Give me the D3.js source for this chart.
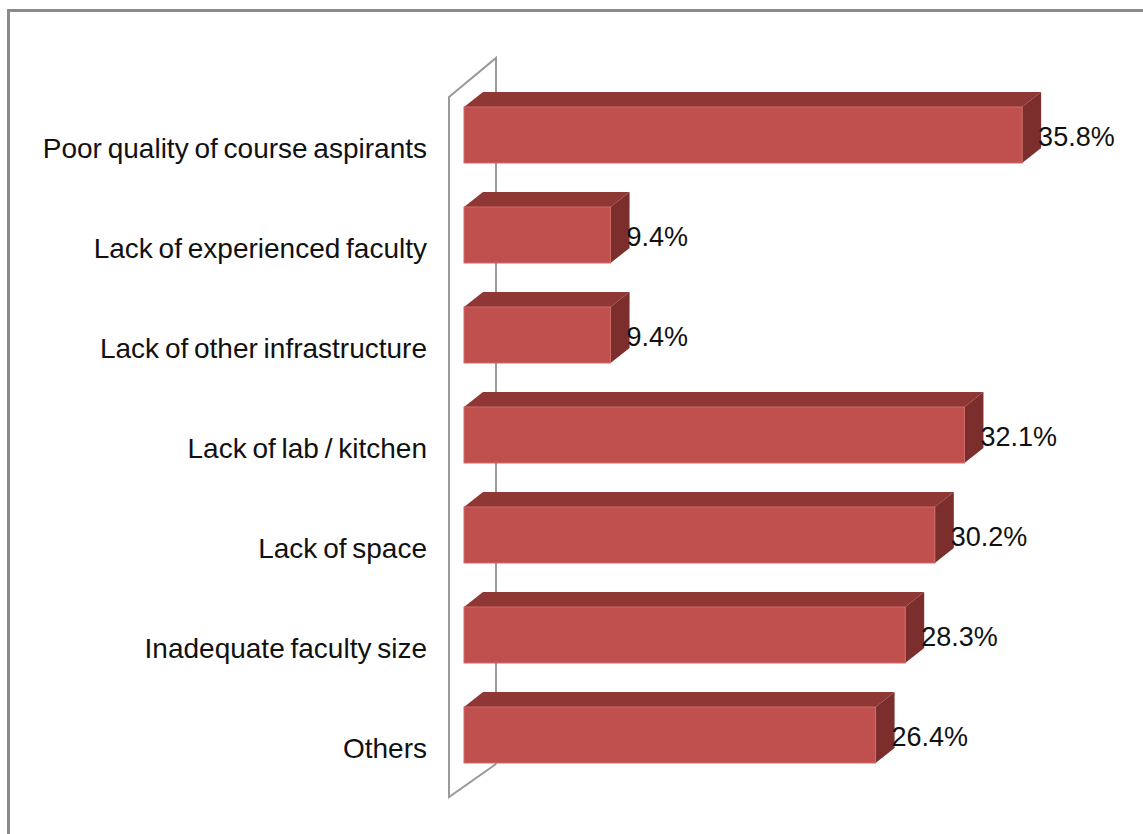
<!DOCTYPE html>
<html>
<head>
<meta charset="utf-8">
<script src="https://cdn.jsdelivr.net/npm/d3@7"></script>
<style>
  html, body { margin: 0; padding: 0; background: #ffffff; }
  svg { display: block; }
  text { font-family: "Liberation Sans", Arial, sans-serif; fill: #111; }
</style>
</head>
<body>
<svg id="chart" width="1143" height="834"></svg>
<script>
// Reasons reported, top to bottom
const categories = [
  "Poor quality of course aspirants",
  "Lack of experienced faculty",
  "Lack of other infrastructure",
  "Lack of lab / kitchen",
  "Lack of space",
  "Inadequate faculty size",
  "Others"
];
// Share of respondents (%)
const values = [35.8, 9.4, 9.4, 32.1, 30.2, 28.3, 26.4];

const W = 1143, H = 834;
const svg = d3.select("#chart");

// outer frame (runs off the right and bottom edges)
svg.append("rect")
  .attr("x", 8.5).attr("y", 10.5)
  .attr("width", W + 20).attr("height", H + 20)
  .attr("fill", "none").attr("stroke", "#8a8a8a").attr("stroke-width", 3);

// value axis: bar front faces start at x0
const x0 = 464;
const x = d3.scaleLinear().domain([0, 40]).range([x0, x0 + 40 * 15.59]);
const y = d3.scaleBand().domain(categories)
  .range([85, 785]).paddingInner(0.44).paddingOuter(0.22);

// oblique projection: bar depth and full wall depth
const bdx = 19, bdy = 15;
const wallFront = x0 - 15, wallBack = wallFront + 47;
const wallTopFront = y.range()[0] + 12, wallTopBack = wallTopFront - 39;
const wallBotFront = y.range()[1] + 12, wallBotBack = wallBotFront - 33;

// 3-D side wall outline
svg.append("path")
  .attr("d", d3.line()([
    [wallBack, wallBotBack],
    [wallFront, wallBotFront],
    [wallFront, wallTopFront],
    [wallBack, wallTopBack],
    [wallBack, wallBotBack]
  ]))
  .attr("fill", "none").attr("stroke", "#9a9a9a").attr("stroke-width", 2)
  .attr("stroke-linejoin", "miter");

const bars = svg.append("g").selectAll("g")
  .data(categories.map((c, i) => ({ c, v: values[i] })))
  .join("g");

const h = y.bandwidth();

// top face
bars.append("path")
  .attr("d", d => {
    const yt = y(d.c), x1 = x(d.v);
    return d3.line()([[x0, yt], [x0 + bdx, yt - bdy], [x1 + bdx, yt - bdy], [x1, yt]]) + "Z";
  })
  .attr("fill", "#8f3735");

// right side face
bars.append("path")
  .attr("d", d => {
    const yt = y(d.c), x1 = x(d.v);
    return d3.line()([[x1, yt], [x1 + bdx, yt - bdy], [x1 + bdx, yt + h - bdy], [x1, yt + h]]) + "Z";
  })
  .attr("fill", "#7b2e2c");

// front face
bars.append("rect")
  .attr("x", x0)
  .attr("y", d => y(d.c))
  .attr("width", d => x(d.v) - x0)
  .attr("height", h)
  .attr("fill", "#c0504d")
  .attr("stroke", "#d06a67").attr("stroke-width", 1);

// value labels
bars.append("text")
  .attr("x", d => x(d.v) + 16)
  .attr("y", d => y(d.c) + 39)
  .attr("font-size", 27)
  .text(d => d.v.toFixed(1) + "%");

// category labels
svg.append("g").selectAll("text")
  .data(categories)
  .join("text")
  .attr("x", 427)
  .attr("y", c => y(c) + 51)
  .attr("text-anchor", "end")
  .attr("font-size", 28)
  .attr("word-spacing", -2)
  .text(c => c);
</script>
</body>
</html>
